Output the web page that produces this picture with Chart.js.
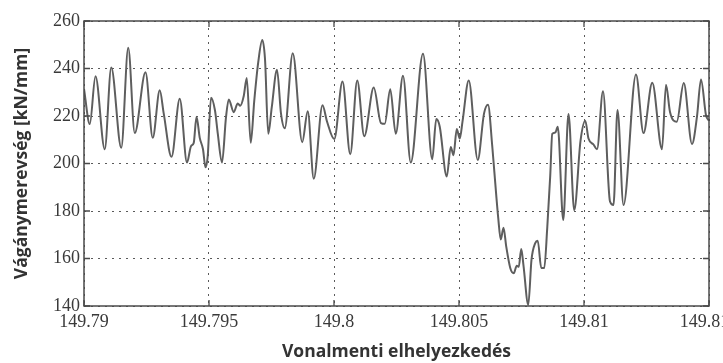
<!DOCTYPE html>
<html lang="hu">
<head>
<meta charset="utf-8">
<title>Vágánymerevség</title>
<script src="https://cdn.jsdelivr.net/npm/chart.js@4.4.1/dist/chart.umd.min.js"></script>
<style>
  html, body { margin: 0; padding: 0; background: #fff; overflow: hidden; }
  #wrap { position: relative; width: 760px; height: 363px; }
</style>
</head>
<body>
<div id="wrap"><canvas id="merevseg"></canvas></div>
<script>
// Vonalmenti pozíció [km]
const positions = [
  149.79, 149.79023, 149.79046, 149.79083, 149.79109, 149.79149, 149.79177, 149.79203, 149.79246, 149.79275,
  149.79303, 149.79319, 149.7935, 149.79383, 149.79412, 149.79428, 149.79439, 149.7945, 149.79463, 149.79476,
  149.79486, 149.79495, 149.79508, 149.79524, 149.79535, 149.79552, 149.79568, 149.79579, 149.79599, 149.79615,
  149.79625, 149.79639, 149.79651, 149.79667, 149.79681, 149.79697, 149.79713, 149.79724, 149.79737, 149.79751,
  149.79772, 149.79788, 149.79803, 149.79835, 149.79873, 149.79895, 149.79919, 149.79954, 149.79972, 149.80001,
  149.80034, 149.80065, 149.80093, 149.80121, 149.80159, 149.80188, 149.80203, 149.80225, 149.80247, 149.80276,
  149.80307, 149.80356, 149.80393, 149.80409, 149.80423, 149.80451, 149.80467, 149.80478, 149.80491, 149.80503,
  149.80514, 149.80539, 149.80575, 149.806, 149.80616, 149.80633, 149.80641, 149.80657, 149.80667, 149.80678,
  149.80689, 149.80705, 149.80719, 149.80731, 149.80739, 149.80749, 149.80758, 149.80777, 149.8079, 149.80805,
  149.80815, 149.80829, 149.80841, 149.80853, 149.80865, 149.80873, 149.80885, 149.80895, 149.80917, 149.80938,
  149.80961, 149.80986, 149.81005, 149.81018, 149.81038, 149.81052, 149.81076, 149.81104, 149.81118, 149.81134,
  149.81158, 149.81208, 149.81238, 149.81273, 149.81312, 149.81328, 149.81344, 149.81371, 149.81399, 149.81432,
  149.81452, 149.81468, 149.81488, 149.815
];

// Vágánymerevség [kN/mm]
const stiffness = [
  231.4, 216.6, 236.7, 206, 240.4, 206.6, 248.7, 212.8, 238.4, 210.8,
  230.8, 221, 202.8, 227.3, 200.4, 207.3, 208.7, 219.7, 210.8, 206,
  198.4, 203.2, 227.7, 222.3, 212.7, 200.4, 219.5, 227, 221.6, 225.3,
  224.3, 228.4, 236, 208.7, 226.4, 242.7, 252, 244, 212.5, 223.6,
  239.5, 221, 214.8, 246.4, 209, 222, 193.6, 224.5, 217.7, 210.3,
  234.5, 203.9, 235, 211.5, 232, 217, 216.7, 231.3, 212.5, 237,
  200.4, 246.2, 201.8, 218.7, 215.5, 194.5, 207, 203.5, 214.5, 210.5,
  217.6, 235, 201.5, 221, 224.7, 207.3, 197, 177, 168, 173,
  165, 156, 153.8, 157, 156.5, 164, 157, 140.5, 159.5, 166.5,
  167.5, 156, 156, 173, 195, 212.5, 213, 215.5, 176.2, 220.8,
  180.3, 209.5, 218, 210.5, 208, 206, 230.4, 184, 182.5, 222.5,
  182.5, 237.5, 212.8, 234, 206, 233.2, 221.7, 217.6, 233.9, 208.2,
  219.8, 235.4, 220.3, 218
];

// Tengelyosztások
const xTicks = [149.79, 149.795, 149.8, 149.805, 149.81, 149.815];
const xTickLabels = ["149.79", "149.795", "149.8", "149.805", "149.81", "149.815"];
const yTicks = [140, 160, 180, 200, 220, 240, 260];
const yTickLabels = ["140", "160", "180", "200", "220", "240", "260"];

const tickFont = { family: "'Liberation Serif', 'DejaVu Serif', serif", size: 18 };
const titleFont = { family: "'Open Sans', 'DejaVu Sans', sans-serif", size: 17.5, weight: "bold" };

// Keret a rajzterület körül, befelé álló osztásjelekkel (mind a négy oldalon)
const frame = {
  id: "frame",
  afterDatasetsDraw(chart) {
    const { ctx, chartArea: a, scales: { x, y } } = chart;
    ctx.save();
    ctx.strokeStyle = "#4a4a4a";
    ctx.lineWidth = 1.5;
    ctx.strokeRect(a.left, a.top, a.right - a.left, a.bottom - a.top);
    ctx.lineWidth = 1.3;
    ctx.beginPath();
    xTicks.forEach((v) => {
      const px = x.getPixelForValue(v);
      ctx.moveTo(px, a.bottom);
      ctx.lineTo(px, a.bottom - 6);
      ctx.moveTo(px, a.top);
      ctx.lineTo(px, a.top + 6);
    });
    yTicks.forEach((v) => {
      const py = y.getPixelForValue(v);
      ctx.moveTo(a.left, py);
      ctx.lineTo(a.left + 6, py);
      ctx.moveTo(a.right, py);
      ctx.lineTo(a.right - 6, py);
    });
    ctx.stroke();
    ctx.restore();
  },
};

const gridOpts = { color: "#5a5a5a", lineWidth: 1, drawTicks: false };
const borderOpts = { display: false, dash: [2, 5] };

new Chart(document.getElementById("merevseg"), {
  type: "line",
  data: {
    datasets: [
      {
        data: positions.map((p, i) => ({ x: p, y: stiffness[i] })),
        borderColor: "#5e5e5e",
        borderWidth: 2,
        pointRadius: 0,
        cubicInterpolationMode: "monotone",
        fill: false,
      },
    ],
  },
  options: {
    responsive: true,
    maintainAspectRatio: false,
    animation: false,
    layout: { padding: { left: 0, right: 51, top: 21, bottom: 0 } },
    plugins: { legend: { display: false }, tooltip: { enabled: false } },
    scales: {
      x: {
        type: "linear",
        min: 149.79,
        max: 149.815,
        afterBuildTicks: (scale) => { scale.ticks = xTicks.map((v) => ({ value: v })); },
        ticks: {
          autoSkip: false,
          maxRotation: 0,
          padding: 5,
          color: "#3a3a3a",
          font: tickFont,
          callback: (v, i) => xTickLabels[i],
        },
        grid: gridOpts,
        border: borderOpts,
        title: {
          display: true,
          text: "Vonalmenti elhelyezkedés",
          color: "#333",
          font: titleFont,
          padding: { top: 4.4, bottom: 0 },
        },
      },
      y: {
        min: 140,
        max: 260,
        afterBuildTicks: (scale) => { scale.ticks = yTicks.map((v) => ({ value: v })); },
        afterFit: (scale) => { scale.width = 84; },
        ticks: {
          padding: 4,
          color: "#3a3a3a",
          font: tickFont,
          callback: (v, i) => yTickLabels[i],
        },
        grid: gridOpts,
        border: borderOpts,
        title: {
          display: true,
          text: "Vágánymerevség [kN/mm]",
          color: "#333",
          font: titleFont,
          padding: { top: 11.5, bottom: 0 },
        },
      },
    },
  },
  plugins: [frame],
});
</script>
</body>
</html>
